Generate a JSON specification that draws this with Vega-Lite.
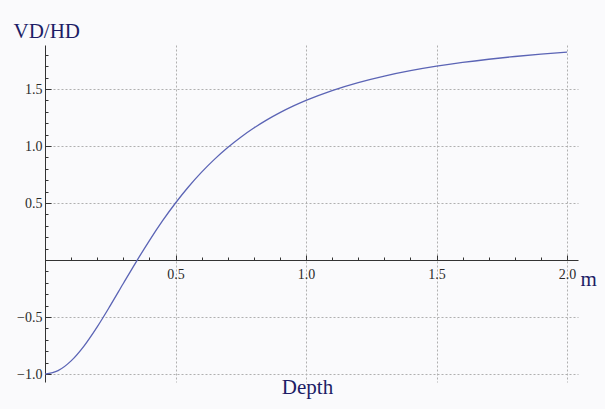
{
  "$schema": "https://vega.github.io/schema/vega-lite/v6.json",
  "width": 533,
  "height": 337,
  "autosize": {"type": "none"},
  "padding": {"left": 45, "top": 45, "right": 27, "bottom": 27},
  "background": "#fafafc",
  "config": {"view": {"stroke": null}},
  "title": {
    "text": "Depth",
    "orient": "bottom",
    "anchor": "middle",
    "frame": "group",
    "font": "Liberation Serif",
    "fontSize": 21,
    "fontWeight": "normal",
    "color": "#1d1d66",
    "baseline": "alphabetic",
    "offset": 12,
    "dx": -4
  },
  "data": {
    "values": [
      {"depth": 0.0, "ratio": -1.0},
      {"depth": 0.05, "ratio": -0.9703},
      {"depth": 0.1, "ratio": -0.8846},
      {"depth": 0.15, "ratio": -0.7523},
      {"depth": 0.2, "ratio": -0.5862},
      {"depth": 0.25, "ratio": -0.4},
      {"depth": 0.3, "ratio": -0.2059},
      {"depth": 0.35, "ratio": -0.0134},
      {"depth": 0.4, "ratio": 0.1707},
      {"depth": 0.45, "ratio": 0.3425},
      {"depth": 0.5, "ratio": 0.5},
      {"depth": 0.55, "ratio": 0.6425},
      {"depth": 0.6, "ratio": 0.7705},
      {"depth": 0.65, "ratio": 0.8848},
      {"depth": 0.7, "ratio": 0.9865},
      {"depth": 0.75, "ratio": 1.0769},
      {"depth": 0.8, "ratio": 1.1573},
      {"depth": 0.85, "ratio": 1.2288},
      {"depth": 0.9, "ratio": 1.2925},
      {"depth": 0.95, "ratio": 1.3492},
      {"depth": 1.0, "ratio": 1.4},
      {"depth": 1.1, "ratio": 1.4863},
      {"depth": 1.2, "ratio": 1.5562},
      {"depth": 1.3, "ratio": 1.6134},
      {"depth": 1.4, "ratio": 1.6606},
      {"depth": 1.5, "ratio": 1.7},
      {"depth": 1.6, "ratio": 1.7331},
      {"depth": 1.7, "ratio": 1.7611},
      {"depth": 1.8, "ratio": 1.7851},
      {"depth": 1.9, "ratio": 1.8057},
      {"depth": 2.0, "ratio": 1.8235}
    ]
  },
  "mark": {"type": "line", "color": "#5b64b5", "strokeWidth": 1.3, "interpolate": "monotone"},
  "encoding": {
    "x": {
      "field": "depth",
      "type": "quantitative",
      "scale": {"domain": [0, 2.042], "nice": false, "zero": false},
      "axis": {
        "values": [0, 0.1, 0.2, 0.3, 0.4, 0.5, 0.6, 0.7, 0.8, 0.9, 1.0, 1.1, 1.2, 1.3, 1.4, 1.5, 1.6, 1.7, 1.8, 1.9, 2.0],
        "offset": {"expr": "scale('y', 0) - height"},
        "domainColor": "#333333",
        "tickColor": "#333333",
        "tickSize": {"condition": {"test": "abs(datum.value*2 - round(datum.value*2)) < 0.000001", "value": -5}, "value": -3},
        "labelExpr": "(abs(datum.value*2 - round(datum.value*2)) < 0.000001 && datum.value != 0) ? format(datum.value, '.1f') : ''",
        "labelFont": "Liberation Serif",
        "labelFontSize": 14,
        "labelColor": "#2a2a2a",
        "labelPadding": 12,
        "labelBaseline": "top",
        "grid": true,
        "gridColor": "#b0b0b0",
        "gridDash": [2, 2],
        "gridOpacity": {"condition": {"test": "abs(datum.value*2 - round(datum.value*2)) < 0.000001 && datum.value != 0", "value": 1}, "value": 0},
        "title": "m",
        "titleFont": "Liberation Serif",
        "titleFontSize": 21,
        "titleFontWeight": "normal",
        "titleColor": "#1d1d66",
        "titleAlign": "left",
        "titleBaseline": "alphabetic",
        "titleAngle": 0,
        "titleX": 535,
        "titleY": 25
      }
    },
    "y": {
      "field": "ratio",
      "type": "quantitative",
      "scale": {"domain": [-1.07, 1.886], "nice": false, "zero": false},
      "axis": {
        "values": [-1.0, -0.9, -0.8, -0.7, -0.6, -0.5, -0.4, -0.3, -0.2, -0.1, 0, 0.1, 0.2, 0.3, 0.4, 0.5, 0.6, 0.7, 0.8, 0.9, 1.0, 1.1, 1.2, 1.3, 1.4, 1.5, 1.6, 1.7, 1.8],
        "domainColor": "#333333",
        "tickColor": "#333333",
        "tickSize": {"condition": {"test": "abs(datum.value*2 - round(datum.value*2)) < 0.000001", "value": -6}, "value": -3},
        "labelExpr": "(abs(datum.value*2 - round(datum.value*2)) < 0.000001 && datum.value != 0) ? format(datum.value, '.1f') : ''",
        "labelFont": "Liberation Serif",
        "labelFontSize": 14,
        "labelColor": "#2a2a2a",
        "labelPadding": 9,
        "grid": true,
        "gridColor": "#b0b0b0",
        "gridDash": [2, 2],
        "gridOpacity": {"condition": {"test": "abs(datum.value*2 - round(datum.value*2)) < 0.000001 && datum.value != 0", "value": 1}, "value": 0},
        "title": "VD/HD",
        "titleFont": "Liberation Serif",
        "titleFontSize": 21,
        "titleFontWeight": "normal",
        "titleColor": "#1d1d66",
        "titleAlign": "left",
        "titleBaseline": "alphabetic",
        "titleAngle": 0,
        "titleX": -32,
        "titleY": -8
      }
    }
  }
}
